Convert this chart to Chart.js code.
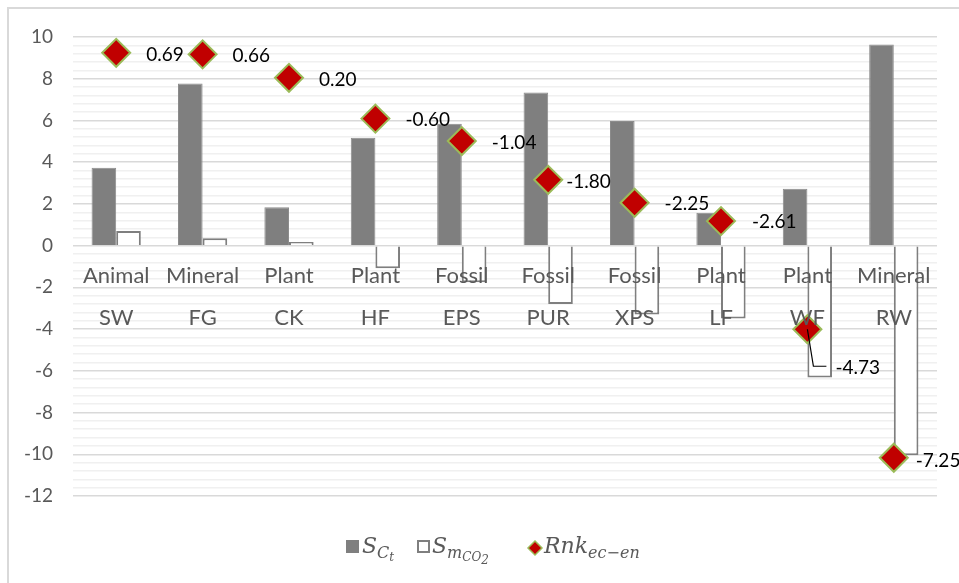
<!DOCTYPE html>
<html><head><meta charset="utf-8">
<script src="https://cdn.jsdelivr.net/npm/chart.js@4/dist/chart.umd.min.js"></script>
<style>
html,body{margin:0;padding:0;background:#fff;overflow:hidden;}
#wrap{position:relative;width:959px;height:583px;}
#frame{position:absolute;left:7px;top:7px;width:1000px;height:1000px;border-top:2px solid #d9d9d9;border-left:2px solid #d9d9d9;box-sizing:border-box;}
#c{position:absolute;left:0;top:0;}
.leg{position:absolute;font-family:"DejaVu Serif",serif;font-style:italic;font-size:22px;color:#595959;white-space:nowrap;line-height:1;}
.leg sub{font-size:16px;vertical-align:-5px;}
.leg sub sub{font-size:12px;vertical-align:-3px;}
.box{position:absolute;width:13px;height:13px;box-sizing:border-box;}
</style>
</head><body>
<div id="wrap">
  <div id="frame"></div>
  <canvas id="c" width="959" height="583"></canvas>
  <div class="box" style="left:346px;top:540px;background:#7f7f7f;"></div>
  <div class="leg" style="left:362px;top:535px;">S<sub>C<sub>t</sub></sub></div>
  <div class="box" style="left:417px;top:540px;background:#fff;border:2px solid #7f7f7f;"></div>
  <div class="leg" style="left:432px;top:535px;">S<sub>m<sub>CO<sub>2</sub></sub></sub></div>
  <canvas id="legMark" width="18" height="18" style="position:absolute;left:526px;top:539px;"></canvas>
  <div class="leg" style="left:544px;top:535px;">Rnk<sub>ec−en</sub></div>
</div>
<script>
// ---- data ----
const materialTypes = ['Animal','Mineral','Plant','Plant','Fossil','Fossil','Fossil','Plant','Plant','Mineral'];
const materialCodes = ['SW','FG','CK','HF','EPS','PUR','XPS','LF','WF','RW'];
const sCt   = [3.73, 7.77, 1.84, 5.17, 5.84, 7.34, 5.97, 1.58, 2.73, 9.64];
const sMco2 = [0.70, 0.35, 0.18, -1.08, -1.75, -2.80, -3.30, -3.49, -6.32, -10.05];
const rnk   = [0.69, 0.66, 0.20, -0.60, -1.04, -1.80, -2.25, -2.61, -4.73, -7.25];
const yMin = -12, yMax = 10, yMajorStep = 2, yMinorStep = 0.4;
const y2Min = -8, y2Max = 1;

const categories = materialTypes.map((t, i) => [t, materialCodes[i]]);

// label placement (style only)
const labelOffsets = [
  {dx:30, dy:2},{dx:30, dy:2},{dx:30, dy:2},{dx:30, dy:1},{dx:30, dy:2},
  {dx:18, dy:2},{dx:30, dy:1},{dx:31, dy:1},
  {dx:28, dy:39, leader:[[0,0],[6,37],[19,37]]},
  {dx:22, dy:3}
];

const isMajor = v => Math.abs(v / yMajorStep - Math.round(v / yMajorStep)) < 1e-6;

const rnkLabels = {
  id: 'rnkLabels',
  afterDatasetsDraw(chart) {
    const meta = chart.getDatasetMeta(2);
    const ctx = chart.ctx;
    ctx.save();
    ctx.font = '19px Lato';
    ctx.fillStyle = '#000';
    ctx.textBaseline = 'middle';
    ctx.textAlign = 'left';
    meta.data.forEach((pt, i) => {
      const o = labelOffsets[i];
      if (o.leader) {
        ctx.beginPath();
        ctx.strokeStyle = '#000';
        ctx.lineWidth = 1.2;
        o.leader.forEach((p, k) => {
          if (k === 0) ctx.moveTo(pt.x + p[0], pt.y + p[1]);
          else ctx.lineTo(pt.x + p[0], pt.y + p[1]);
        });
        ctx.stroke();
      }
      ctx.fillText(rnk[i].toFixed(2), pt.x + o.dx, pt.y + o.dy);
    });
    ctx.restore();
  }
};

new Chart(document.getElementById('c'), {
  type: 'bar',
  data: {
    labels: categories,
    datasets: [
      { label: 'S_Ct', data: sCt, backgroundColor: '#7f7f7f', borderColor: '#8c8c8c', borderWidth: 1, order: 2, yAxisID: 'y' },
      { label: 'S_mCO2', data: sMco2, backgroundColor: '#ffffff', borderColor: '#7f7f7f', borderWidth: 2, order: 2, yAxisID: 'y' },
      { type: 'line', label: 'Rnk_ec-en', data: rnk, showLine: false, yAxisID: 'y2', order: 0,
        pointStyle: 'rectRot', pointRadius: 14, pointHoverRadius: 14,
        pointBackgroundColor: '#c00000', pointBorderColor: '#9bbb59', pointBorderWidth: 2,
        backgroundColor: '#c00000', borderColor: '#9bbb59' }
    ]
  },
  options: {
    responsive: false,
    animation: false,
    events: [],
    layout: { padding: { left: 0, right: 22, top: 37, bottom: 87 } },
    datasets: { bar: { categoryPercentage: 0.57, barPercentage: 1.0 } },
    plugins: { legend: { display: false }, tooltip: { enabled: false } },
    scales: {
      x: {
        position: { y: 0 },
        grid: { display: false, drawTicks: false },
        border: { display: false },
        ticks: { z: 1, color: '#595959', font: { family: 'Lato', size: 22, lineHeight: 1.91 }, padding: 9, maxRotation: 0, autoSkip: false }
      },
      y: {
        min: yMin, max: yMax,
        afterFit: s => { s.width = 73; },
        grid: {
          drawTicks: false,
          lineWidth: 1.5,
          color: c => (c.tick && isMajor(c.tick.value)) ? '#d9d9d9' : '#f0f0f0'
        },
        border: { display: false },
        ticks: {
          stepSize: yMinorStep,
          autoSkip: false,
          padding: 20,
          color: '#595959',
          font: { family: 'Lato', size: 19 },
          callback: v => isMajor(v) ? String(Math.round(v)) : ''
        }
      },
      y2: { display: false, min: y2Min, max: y2Max }
    }
  },
  plugins: [rnkLabels]
});

// legend marker for diamond series
(function(){
  const m = document.getElementById('legMark').getContext('2d');
  m.beginPath();
  m.moveTo(9,2); m.lineTo(16,9); m.lineTo(9,16); m.lineTo(2,9); m.closePath();
  m.fillStyle = '#c00000'; m.fill();
  m.lineWidth = 1.5; m.strokeStyle = '#9bbb59'; m.stroke();
})();
</script>
</body></html>
